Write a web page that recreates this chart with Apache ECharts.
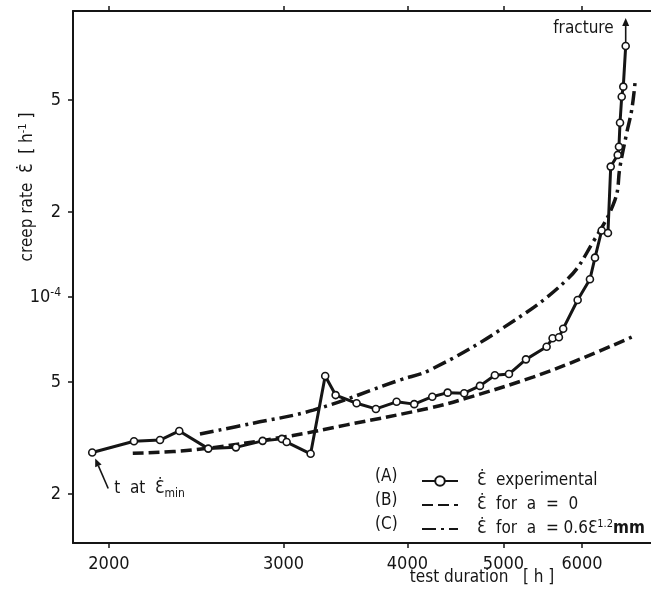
<!DOCTYPE html>
<html lang="en">
<head>
<meta charset="UTF-8">
<title>creep rate vs test duration</title>
<style>
  html, body { margin: 0; padding: 0; background: #fff; }
  #main { width: 651px; height: 601px; }
</style>
<script src="https://cdn.jsdelivr.net/npm/echarts@6/dist/echarts.min.js"></script>
</head>
<body>
<div id="main"></div>
<script>
// test duration [h] / creep rate [1/h]
var timeA = [1924, 2120, 2252, 2355, 2519, 2686, 2858, 2989, 3022, 3195, 3305, 3386, 3555, 3718, 3901, 4064,
             4238, 4392, 4564, 4734, 4901, 5064, 5268, 5527, 5604, 5687, 5744, 5940, 6112, 6184, 6281, 6373,
             6414, 6519, 6538, 6554, 6580, 6604, 6641];
var rateA = [2.81e-5, 3.08e-5, 3.11e-5, 3.35e-5, 2.90e-5, 2.93e-5, 3.09e-5, 3.14e-5, 3.06e-5, 2.78e-5, 5.25e-5,
             4.49e-5, 4.20e-5, 4.01e-5, 4.25e-5, 4.17e-5, 4.43e-5, 4.58e-5, 4.56e-5, 4.84e-5, 5.28e-5, 5.33e-5,
             6.01e-5, 6.66e-5, 7.14e-5, 7.20e-5, 7.72e-5, 9.76e-5, 1.156e-4, 1.379e-4, 1.721e-4, 1.687e-4,
             2.90e-4, 3.19e-4, 3.41e-4, 4.15e-4, 5.13e-4, 5.57e-4, 7.76e-4];

// (B) a = 0
var timeB = [2114, 2431, 3022, 3474, 4215, 4590, 5354, 6014, 6734];
var rateB = [2.79e-5, 2.87e-5, 3.20e-5, 3.52e-5, 4.04e-5, 4.38e-5, 5.20e-5, 6.08e-5, 7.21e-5];

// (C) a = 0.6 eps^1.2 mm
var timeC = [2471, 2796, 3214, 3931, 4215, 4959, 5790, 6159, 6478, 6554, 6656, 6734, 6786];
var rateC = [3.27e-5, 3.57e-5, 3.97e-5, 5.08e-5, 5.51e-5, 7.64e-5, 1.149e-4, 1.571e-4, 2.21e-4, 2.90e-4,
             3.81e-4, 4.60e-4, 5.73e-4];

var xTicks = [2000, 3000, 4000, 5000, 6000];
var yTicks = [2e-5, 5e-5, 1e-4, 2e-4, 5e-4];
var yTickLabels = ['2', '5', '10{sup|-4}', '2', '5'];

var xRange = [1840, 7043];
var yRange = [1.342e-5, 1.033e-3];

var EPS = '\u0190\u0307';   // open E with dot above
var seriesNames = [EPS + '  experimental', EPS + '  for  a  =  0', EPS + '  for  a  = 0.6\u0190'];
var legendTags = ['(A)', '(B)', '(C)'];

var FONT = '"DejaVu Sans Condensed", "DejaVu Sans", sans-serif';
var INK = '#151515';

var lg = function (v) { return Math.log10(v); };
function toXY(t, r) {
    return t.map(function (x, i) { return [lg(x), lg(r[i])]; });
}

var chart = echarts.init(document.getElementById('main'));

var xAxisBase = {
    type: 'value',
    min: lg(xRange[0]),
    max: lg(xRange[1]),
    axisLine: { onZero: false, lineStyle: { color: INK, width: 2 } },
    axisTick: { length: 5, lineStyle: { color: INK, width: 1.5 }, customValues: xTicks.map(lg) },
    splitLine: { show: false }
};

var option = {
    animation: false,
    backgroundColor: '#fff',
    grid: { left: 73, top: 11, right: 0, bottom: 58 },
    xAxis: [
        echarts.util.merge({
            position: 'bottom',
            axisLabel: {
                customValues: xTicks.map(lg),
                margin: 12,
                color: INK,
                fontFamily: FONT,
                fontSize: 18,
                formatter: function (v) { return String(Math.round(Math.pow(10, v))); }
            }
        }, xAxisBase, true),
        echarts.util.merge({
            position: 'top',
            axisLabel: { show: false }
        }, xAxisBase, true)
    ],
    yAxis: {
        type: 'value',
        min: lg(yRange[0]),
        max: lg(yRange[1]),
        axisLine: { onZero: false, lineStyle: { color: INK, width: 2 } },
        axisTick: { length: 5, lineStyle: { color: INK, width: 1.5 }, customValues: yTicks.map(lg) },
        splitLine: { show: false },
        axisLabel: {
            customValues: yTicks.map(lg),
            margin: 12,
            color: INK,
            fontFamily: FONT,
            fontSize: 18,
            formatter: function (v) {
                var best = 0;
                for (var i = 1; i < yTicks.length; i++) {
                    if (Math.abs(lg(yTicks[i]) - v) < Math.abs(lg(yTicks[best]) - v)) best = i;
                }
                return yTickLabels[best];
            },
            rich: {
                sup: { fontSize: 12, fontFamily: FONT, color: INK, padding: [0, 0, 9, 0] }
            }
        }
    },
    legend: {
        orient: 'vertical',
        left: 416,
        top: 466,
        itemWidth: 36,
        itemHeight: 12,
        itemGap: 4,
        data: [
            { name: seriesNames[0] },
            { name: seriesNames[1], itemStyle: { opacity: 0 } },
            { name: seriesNames[2], itemStyle: { opacity: 0 } }
        ],
        textStyle: {
            color: INK,
            fontFamily: FONT,
            fontSize: 17,
            lineHeight: 20,
            rich: {
                g: { width: 14 },
                t: { color: INK, fontFamily: FONT, fontSize: 17 },
                sup: { color: INK, fontFamily: FONT, fontSize: 11, padding: [0, 0, 9, 0] },
                mm: { color: INK, fontFamily: FONT, fontSize: 17, fontWeight: 'bold' }
            }
        },
        formatter: function (name) {
            if (name === seriesNames[2]) return '{g|}{t|' + name + '}{sup|1.2}{mm|mm}';
            return '{g|}{t|' + name + '}';
        }
    },
    series: [
        {
            name: seriesNames[0],
            type: 'line',
            data: toXY(timeA, rateA),
            symbol: 'circle',
            symbolSize: 7,
            z: 5,
            itemStyle: { color: '#fff', borderColor: INK, borderWidth: 1.6 },
            lineStyle: { color: INK, width: 3 }
        },
        {
            name: seriesNames[1],
            type: 'line',
            data: toXY(timeB, rateB),
            symbol: 'none',
            smooth: 0.4,
            itemStyle: { color: INK },
            lineStyle: { color: INK, width: 3.5, type: [11, 5] }
        },
        {
            name: seriesNames[2],
            type: 'line',
            data: toXY(timeC, rateC),
            symbol: 'none',
            smooth: 0.4,
            itemStyle: { color: INK },
            lineStyle: { color: INK, width: 3.5, type: [14, 5, 3, 5] }
        }
    ]
};

chart.setOption(option);

// annotations placed from the data points
function arrow(x1, y1, x2, y2) {
    var a = Math.atan2(y2 - y1, x2 - x1), L = 8, W = 3.5;
    var bx = x2 - L * Math.cos(a), by = y2 - L * Math.sin(a);
    return [
        { type: 'line', shape: { x1: x1, y1: y1, x2: bx, y2: by }, style: { stroke: INK, lineWidth: 1.6 } },
        { type: 'polygon', shape: { points: [[x2, y2],
            [bx + W * Math.sin(a), by - W * Math.cos(a)],
            [bx - W * Math.sin(a), by + W * Math.cos(a)]] }, style: { fill: INK } }
    ];
}

var n = timeA.length;
var p0 = chart.convertToPixel({ seriesIndex: 0 }, [lg(timeA[0]), lg(rateA[0])]);
var pN = chart.convertToPixel({ seriesIndex: 0 }, [lg(timeA[n - 1]), lg(rateA[n - 1])]);

var txt = function (s, x, y, extra) {
    return echarts.util.merge({
        type: 'text', x: x, y: y,
        style: { text: s, fill: INK, fontFamily: FONT, fontSize: 17, align: 'left', verticalAlign: 'middle' }
    }, extra || {}, true);
};

var g = [];
g = g.concat(arrow(pN[0], pN[1] - 4, pN[0], pN[1] - 28));
g.push(txt('fracture', pN[0] - 12, pN[1] - 17, { style: { align: 'right' } }));
g = g.concat(arrow(p0[0] + 16, p0[1] + 36, p0[0] + 3, p0[1] + 6));
g.push(txt('t  at  ' + EPS + '{sub|min}', p0[0] + 22, p0[1] + 36, {
    style: { rich: { sub: { fontFamily: FONT, fontSize: 12, fill: INK, padding: [10, 0, 0, 0] } } }
}));
legendTags.forEach(function (s, i) {
    g.push(txt(s, 375, 477 + i * 24));
});
g.push(txt('creep rate  ' + EPS + '  [ h{sup|-1} ]', 28, 187, {
    rotation: Math.PI / 2,
    style: { align: 'center', rich: { sup: { fontFamily: FONT, fontSize: 11, fill: INK, padding: [0, 0, 9, 0] } } }
}));
g.push(txt('test duration   [ h ]', 482, 578, { style: { align: 'center' } }));

chart.setOption({ graphic: g });
</script>
</body>
</html>
